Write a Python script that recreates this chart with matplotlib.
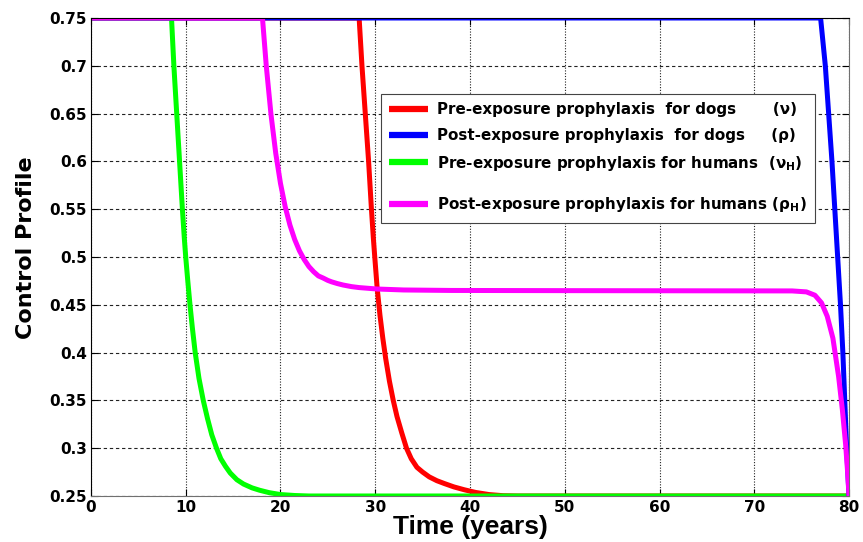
import numpy as np
import matplotlib
matplotlib.use('Agg')
import matplotlib.pyplot as plt

plt.rcParams['font.family'] = ['DejaVu Sans']
plt.rcParams['font.weight'] = 'bold'
plt.rcParams['mathtext.fontset'] = 'custom'
plt.rcParams['mathtext.bf'] = 'DejaVu Sans:bold'
plt.rcParams['mathtext.rm'] = 'DejaVu Sans:bold'

# control profiles (time in years)
t_nu = [0, 28.3, 28.6, 28.95, 29.3, 29.6, 29.8, 29.95, 30.2, 30.5, 30.8, 31.1, 31.5, 31.9,
        32.3, 32.8, 33.3, 33.8, 34.4, 35.0, 35.7, 36.5, 37.3, 38.3, 39.4, 40.6, 42.0,
        43.5, 45.0, 80]
nu = [0.75, 0.75, 0.70, 0.65, 0.60, 0.55, 0.52, 0.50, 0.468, 0.439, 0.415, 0.394, 0.370,
      0.350, 0.333, 0.316, 0.300, 0.289, 0.280, 0.275, 0.270, 0.266, 0.263, 0.2595,
      0.2565, 0.2537, 0.2515, 0.2503, 0.25, 0.25]

t_rho = [0, 77.0, 77.5, 77.85, 78.2, 78.5, 78.8, 79.1, 79.35, 79.55, 79.75, 80]
rho = [0.75, 0.75, 0.70, 0.65, 0.60, 0.55, 0.50, 0.45, 0.40, 0.35, 0.30, 0.25]

t_nuH = [0, 8.5, 8.75, 9.05, 9.35, 9.65, 9.85, 10.0, 10.2, 10.45, 10.7, 11.0, 11.4, 11.85,
         12.3, 12.75, 13.25, 13.7, 14.2, 14.7, 15.4, 16.1, 17.0, 17.8, 18.8, 20.0, 21.5,
         23.0, 80]
nuH = [0.75, 0.75, 0.70, 0.65, 0.60, 0.55, 0.52, 0.50, 0.477, 0.45, 0.426, 0.40, 0.373,
       0.35, 0.331, 0.314, 0.30, 0.289, 0.281, 0.274, 0.267, 0.2625, 0.2585, 0.256,
       0.2535, 0.2515, 0.2505, 0.25, 0.25]

t_rhoH = [0, 18.1, 18.5, 19.0, 19.5, 20.0, 20.5, 21.0, 21.5, 22.0, 22.5, 23.0, 23.5,
          24.0, 24.5, 25.0, 25.4, 26.0, 26.6, 27.5, 28.3, 30.2, 33.0, 38.0, 50.0, 74.0,
          75.5, 76.4, 77.1, 77.7, 78.3, 78.9, 79.3, 79.65, 79.85, 80]
rhoH = [0.75, 0.75, 0.70, 0.649, 0.6085, 0.577, 0.5525, 0.5333, 0.5183, 0.5065, 0.4974,
        0.490, 0.4846, 0.4802, 0.478, 0.4755, 0.474, 0.4722, 0.4707, 0.469, 0.468, 0.4665,
        0.4655, 0.465, 0.4648, 0.4645, 0.4635, 0.460, 0.452, 0.438, 0.415, 0.375, 0.34,
        0.303, 0.275, 0.25]

labels = ['Pre-exposure prophylaxis  for dogs       (ν)',
          'Post-exposure prophylaxis  for dogs     (ρ)',
          'Pre-exposure prophylaxis for humans  (ν$_{\\mathbf{H}}$)',
          '\nPost-exposure prophylaxis for humans (ρ$_{\\mathbf{H}}$)']

fig = plt.figure(figsize=(8.63, 5.42), dpi=100)
ax = fig.add_axes([0.1054, 0.0849, 0.8784, 0.8819])

lw = 3.6
l_nu, = ax.plot(t_nu, nu, color='#ff0000', lw=lw)
l_nuH, = ax.plot(t_nuH, nuH, color='#00ff00', lw=lw)
l_rho, = ax.plot(t_rho, rho, color='#0000ff', lw=lw)
l_rhoH, = ax.plot(t_rhoH, rhoH, color='#ff00ff', lw=lw)

ax.set_xlim(0, 80)
ax.set_ylim(0.25, 0.75)
ax.set_xticks(np.arange(0, 81, 10))
ax.set_yticks(np.arange(0.25, 0.751, 0.05))
ax.set_yticklabels(['0.25', '0.3', '0.35', '0.4', '0.45', '0.5', '0.55', '0.6', '0.65', '0.7', '0.75'])
ax.tick_params(direction='in', top=True, right=True, length=5, labelsize=11, width=0.8, pad=3)
# MATLAB-like grid: short dashes across, fine dots upward
ax.yaxis.grid(True, linestyle=(0, (3, 2.5)), color='#222222', lw=0.8)
ax.xaxis.grid(True, linestyle=(0, (1, 1.5)), color='#222222', lw=0.8)
for s in ax.spines.values():
    s.set_linewidth(0.8)
ax.spines['bottom'].set_color('#707070')
ax.spines['right'].set_color('#707070')

ax.set_xlabel('Time (years)', fontsize=19, fontweight='bold', family='Liberation Sans', labelpad=0)
ax.set_ylabel('Control Profile', fontsize=16, fontweight='bold')
ax.yaxis.set_label_coords(-0.073, 0.52)

leg = ax.legend([l_nu, l_rho, l_nuH, l_rhoH], labels, loc='upper left',
                bbox_to_anchor=(0.3826, 0.841), prop={'size': 10.9, 'weight': 'bold'},
                fancybox=False, framealpha=1, edgecolor='#444444', handlelength=2.55,
                handletextpad=0.6, borderpad=0.55, labelspacing=0.7, borderaxespad=0)
leg.get_frame().set_linewidth(0.8)
leg.get_texts()[3].set_linespacing(0.8)
for h in leg.legend_handles:
    h.set_linewidth(4.5)
    h.set_solid_capstyle('butt')
# last entry carries an empty first line; drop its swatch onto the text line
last = leg.legend_handles[3]
last.set_ydata(np.asarray(last.get_ydata()) - 3.6)

fig.savefig('out.png', dpi=100)
